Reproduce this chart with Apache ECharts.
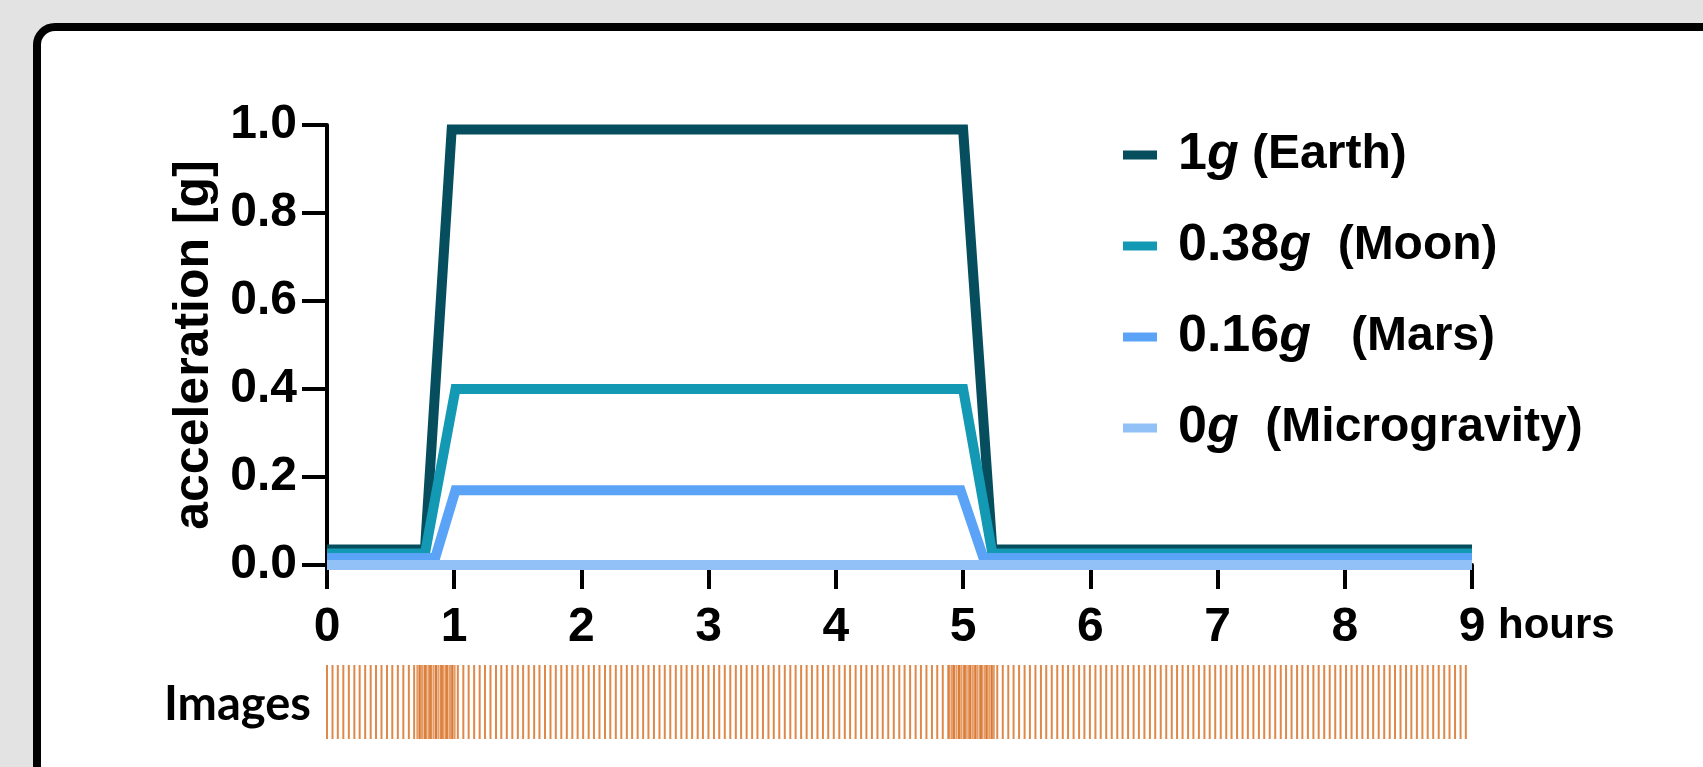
<!DOCTYPE html>
<html>
<head>
<meta charset="utf-8">
<script src="https://cdn.jsdelivr.net/npm/echarts@6/dist/echarts.min.js"></script>
<style>
html,body{margin:0;padding:0;background:#e3e3e3;}
#chart{width:1703px;height:767px;}
</style>
</head>
<body>
<div id="chart"></div>
<script>
// ---- data ----
const seriesNames = ['Earth', 'Moon', 'Mars', 'Microgravity'];
const legendValue = ['1', '0.38', '0.16', '0'];
const legendBody = [' (Earth)', '  (Moon)', '   (Mars)', '  (Microgravity)'];
const seriesColors = ['#064e5e', '#1399b3', '#5ba3f7', '#92c1f8'];

const earthHours = [0, 0.77, 0.98, 5.0, 5.23, 9];
const earthValues = [0.035, 0.035, 0.99, 0.99, 0.035, 0.035];
const moonHours = [0, 0.77, 1.01, 5.0, 5.23, 9];
const moonValues = [0.026, 0.026, 0.40, 0.40, 0.026, 0.026];
const marsHours = [0, 0.85, 1.01, 4.98, 5.16, 9];
const marsValues = [0.016, 0.016, 0.17, 0.17, 0.016, 0.016];
const microHours = [0, 9];
const microValues = [0, 0];

const yTicks = [0, 0.2, 0.4, 0.6, 0.8, 1.0];
const xTicks = [0, 1, 2, 3, 4, 5, 6, 7, 8, 9];

// image acquisition times (minutes)
const imageMinutesRegular = [
 0, 2.6, 5.1, 7.7, 10.3, 12.9, 15.4, 18.0, 20.6, 23.1,
 25.7, 28.3, 30.8, 33.4, 36.0, 38.6, 41.1, 43.7, 46.3, 48.8,
 51.4, 54.0, 56.5, 59.1, 61.7, 64.3, 66.8, 69.4, 72.0, 74.5,
 77.1, 79.7, 82.2, 84.8, 87.4, 90.0, 92.5, 95.1, 97.7, 100.2,
 102.8, 105.4, 107.9, 110.5, 113.1, 115.7, 118.2, 120.8, 123.4, 125.9,
 128.5, 131.1, 133.6, 136.2, 138.8, 141.4, 143.9, 146.5, 149.1, 151.6,
 154.2, 156.8, 159.3, 161.9, 164.5, 167.1, 169.6, 172.2, 174.8, 177.3,
 179.9, 182.5, 185.0, 187.6, 190.2, 192.8, 195.3, 197.9, 200.5, 203.0,
 205.6, 208.2, 210.7, 213.3, 215.9, 218.5, 221.0, 223.6, 226.2, 228.7,
 231.3, 233.9, 236.4, 239.0, 241.6, 244.2, 246.7, 249.3, 251.9, 254.4,
 257.0, 259.6, 262.1, 264.7, 267.3, 269.9, 272.4, 275.0, 277.6, 280.1,
 282.7, 285.3, 287.8, 290.4, 293.0, 295.6, 298.1, 300.7, 303.3, 305.8,
 308.4, 311.0, 313.5, 316.1, 318.7, 321.3, 323.8, 326.4, 329.0, 331.5,
 334.1, 336.7, 339.2, 341.8, 344.4, 347.0, 349.5, 352.1, 354.7, 357.2,
 359.8, 362.4, 364.9, 367.5, 370.1, 372.7, 375.2, 377.8, 380.4, 382.9,
 385.5, 388.1, 390.6, 393.2, 395.8, 398.4, 400.9, 403.5, 406.1, 408.6,
 411.2, 413.8, 416.3, 418.9, 421.5, 424.1, 426.6, 429.2, 431.8, 434.3,
 436.9, 439.5, 442.0, 444.6, 447.2, 449.8, 452.3, 454.9, 457.5, 460.0,
 462.6, 465.2, 467.7, 470.3, 472.9, 475.5, 478.0, 480.6, 483.2, 485.7,
 488.3, 490.9, 493.4, 496.0, 498.6, 501.2, 503.7, 506.3, 508.9, 511.4,
 514.0, 516.6, 519.1, 521.7, 524.3, 526.9, 529.4, 532.0, 534.6, 537.1
];
const imageMinutesBurst1 = [
 42.6, 43.7, 44.8, 45.9, 47.0, 48.1, 49.2, 50.3, 51.4, 52.5,
 53.6, 54.7, 55.8, 56.9, 58.0, 59.1, 60.2
];
const imageMinutesBurst2 = [
 293.6, 294.7, 295.8, 296.9, 298.0, 299.1, 300.2, 301.3, 302.4, 303.5,
 304.6, 305.7, 306.8, 307.9, 309.0, 310.1, 311.2, 312.3, 313.4, 314.5
];

// ---- build ----
const lineData = [
  earthHours.map((h, i) => [h, earthValues[i]]),
  moonHours.map((h, i) => [h, moonValues[i]]),
  marsHours.map((h, i) => [h, marsValues[i]]),
  microHours.map((h, i) => [h, microValues[i]])
];
const regularData = imageMinutesRegular.map(m => [m / 60, 0.5]);
const burstData = imageMinutesBurst1.concat(imageMinutesBurst2).map(m => [m / 60, 0.5]);

const FONT = '"Liberation Sans", Arial, sans-serif';
const chart = echarts.init(document.getElementById('chart'));

const series = seriesNames.map((name, i) => ({
  name: name,
  type: 'line',
  xAxisIndex: 0,
  yAxisIndex: 0,
  data: lineData[i],
  symbol: 'none',
  showSymbol: false,
  clip: false,
  color: seriesColors[i],
  lineStyle: { width: 10, color: seriesColors[i], join: 'miter', cap: 'butt' },
  z: 3 + i
}));
series.push({
  name: 'Images',
  type: 'scatter',
  xAxisIndex: 1,
  yAxisIndex: 1,
  data: regularData,
  symbol: 'rect',
  symbolSize: [2, 74],
  itemStyle: { color: '#d8732a', opacity: 0.85 },
  silent: true
});
series.push({
  name: 'Images burst',
  type: 'scatter',
  xAxisIndex: 1,
  yAxisIndex: 1,
  data: burstData,
  symbol: 'rect',
  symbolSize: [2, 74],
  itemStyle: { color: '#d8732a', opacity: 0.7 },
  silent: true
});

chart.setOption({
  backgroundColor: '#e3e3e3',
  animation: false,
  graphic: [
    { type: 'rect', z: -10, shape: { x: 37, y: 27, width: 1720, height: 800, r: 18 },
      style: { fill: '#ffffff', stroke: '#000000', lineWidth: 8 } },
    { type: 'text', z: 10, left: 1498, top: 605,
      style: { text: 'hours', font: 'bold 42px ' + FONT, fill: '#000' } },
    { type: 'text', z: 10, left: 164, top: 681,
      style: { text: 'Images', font: 'bold 47px Lato, "Open Sans", sans-serif', fill: '#000' } }
  ],
  legend: {
    orient: 'vertical',
    left: 1123,
    top: 129,
    padding: 0,
    itemGap: 39,
    itemWidth: 34,
    itemHeight: 9,
    icon: 'rect',
    selectedMode: false,
    data: seriesNames,
    formatter: function (name) {
      const i = seriesNames.indexOf(name);
      return '{n|' + legendValue[i] + '}{i|g}{t|' + legendBody[i] + '}';
    },
    textStyle: {
      padding: [0, 0, 0, 16],
      rich: {
        n: { fontFamily: FONT, fontWeight: 'bold', fontSize: 52, lineHeight: 56, color: '#000' },
        i: { fontFamily: FONT, fontWeight: 'bold', fontStyle: 'italic', fontSize: 52, lineHeight: 56, color: '#000' },
        t: { fontFamily: FONT, fontWeight: 'bold', fontSize: 48, lineHeight: 56, color: '#000' }
      }
    }
  },
  grid: [
    { left: 327, top: 125, width: 1145, height: 440, containLabel: false },
    { left: 327, top: 665, width: 1145, height: 74, containLabel: false }
  ],
  xAxis: [
    {
      gridIndex: 0, type: 'value', min: 0, max: 9, interval: 1,
      axisLine: { show: true, onZero: false, lineStyle: { color: '#000', width: 4 } },
      axisTick: { show: true, length: 24, lineStyle: { color: '#000', width: 4 } },
      splitLine: { show: false },
      axisLabel: { margin: 39, fontFamily: FONT, fontWeight: 'bold', fontSize: 48, color: '#000',
        formatter: v => String(xTicks[xTicks.indexOf(v)]) }
    },
    {
      gridIndex: 1, type: 'value', min: 0, max: 9, show: false
    }
  ],
  yAxis: [
    {
      gridIndex: 0, type: 'value', min: 0, max: 1, interval: 0.2,
      name: 'acceleration [g]',
      nameLocation: 'middle',
      nameGap: 96,
      nameRotate: 90,
      nameTextStyle: { fontFamily: FONT, fontWeight: 'bold', fontSize: 50, color: '#000' },
      axisLine: { show: true, lineStyle: { color: '#000', width: 4 } },
      axisTick: { show: true, length: 25, lineStyle: { color: '#000', width: 4 } },
      splitLine: { show: false },
      axisLabel: { margin: 30, fontFamily: FONT, fontWeight: 'bold', fontSize: 48, color: '#000',
        formatter: v => yTicks[Math.round(v / 0.2)].toFixed(1) }
    },
    {
      gridIndex: 1, type: 'value', min: 0, max: 1, show: false
    }
  ],
  series: series
});
</script>
</body>
</html>
